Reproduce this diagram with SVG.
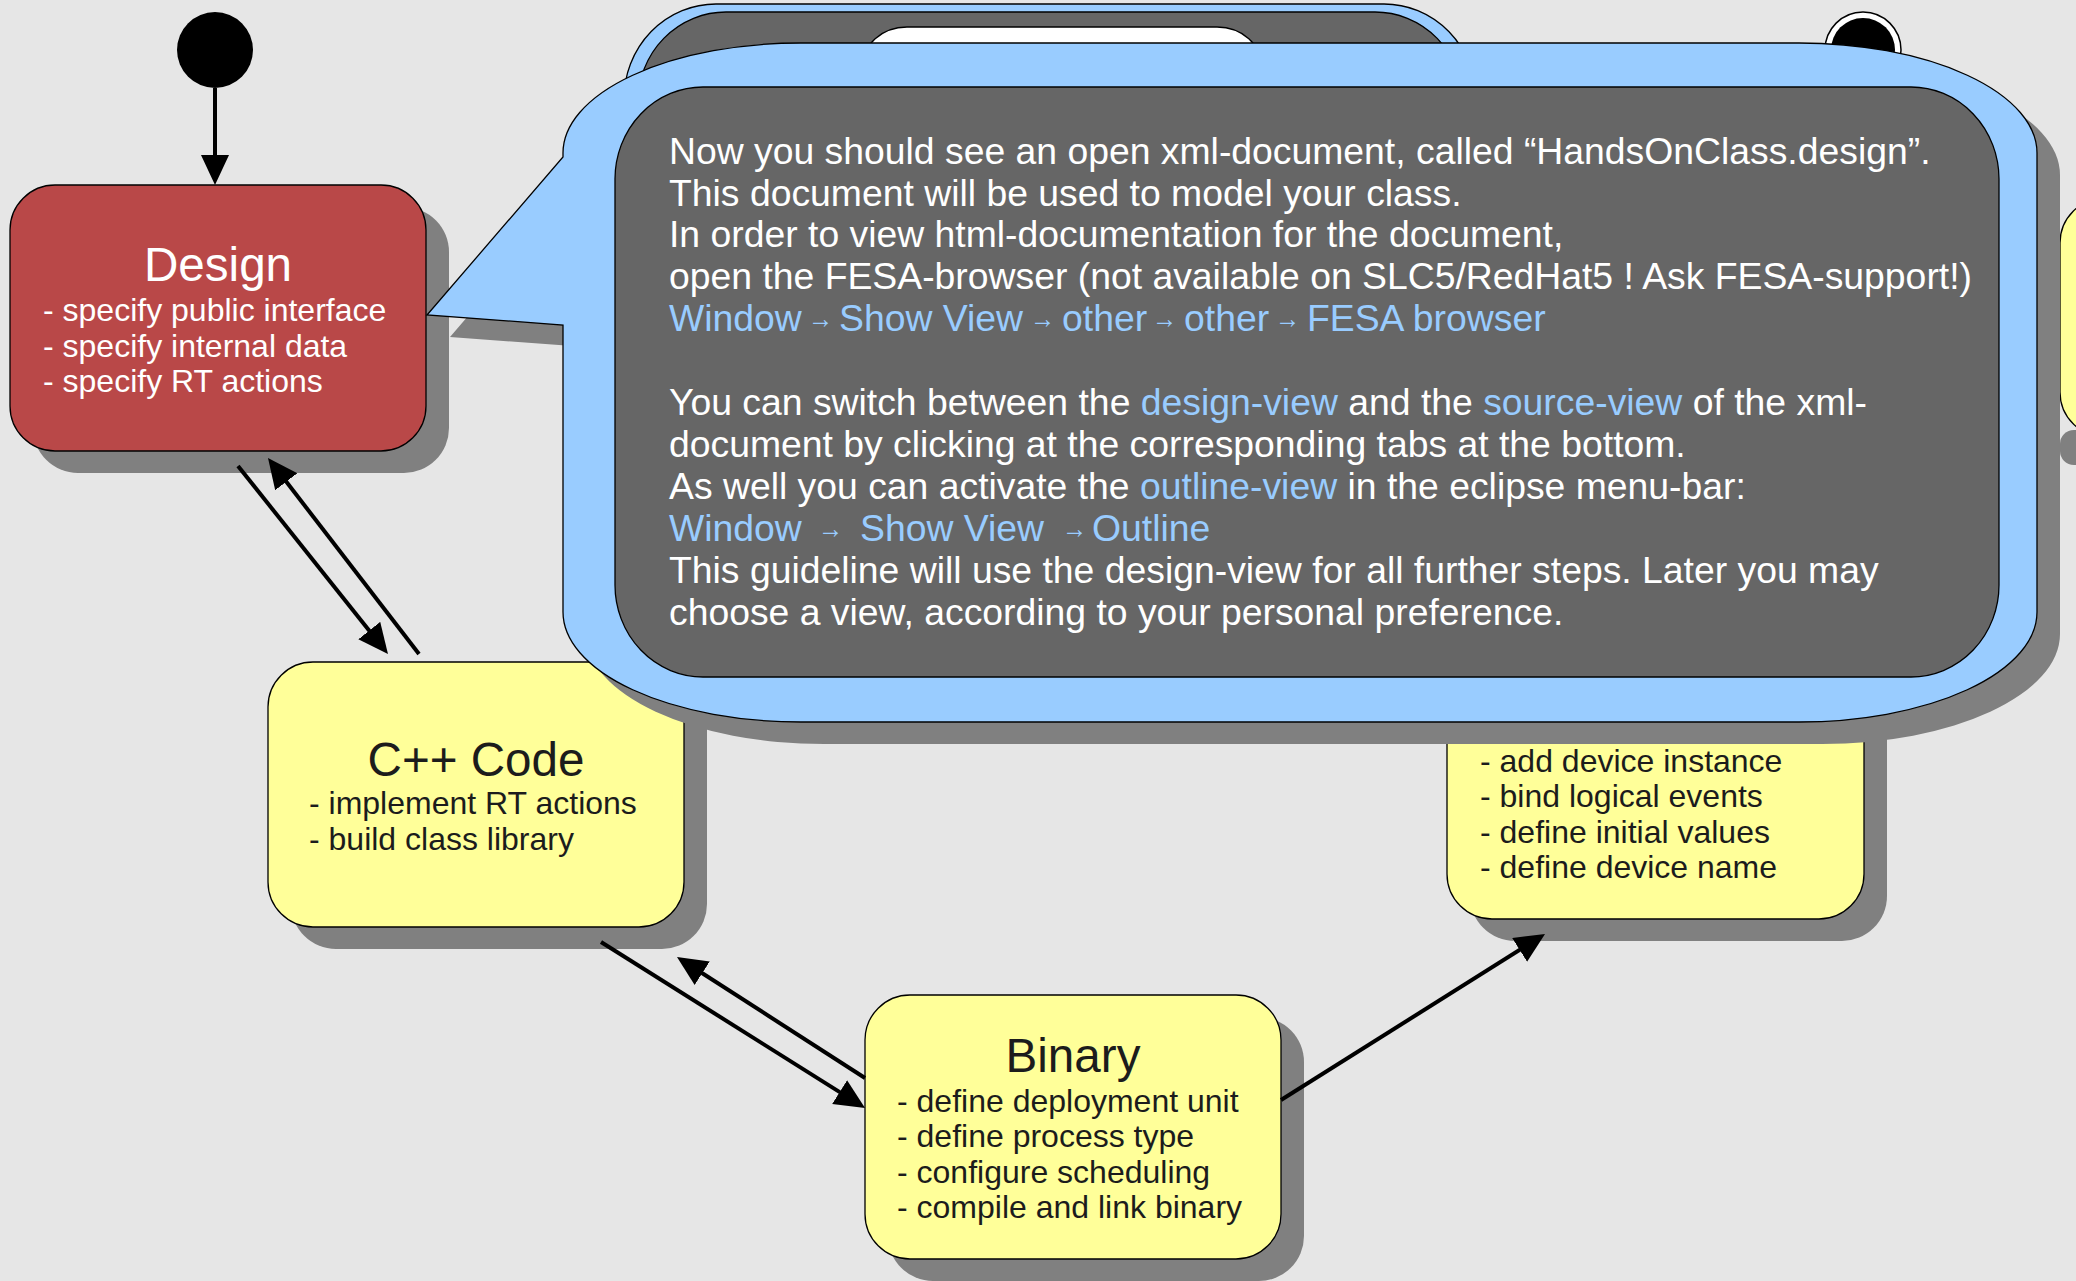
<svg xmlns="http://www.w3.org/2000/svg" width="2076" height="1281" viewBox="0 0 2076 1281">
  <style>
    text { font-family: "Liberation Sans", Arial, sans-serif; }
    .shadow { fill: #808080; }
    .state { stroke: #000; stroke-width: 1.3; }
    .yellow { fill: #ffff99; }
    .red { fill: #b94848; }
    .title { font-size: 47.6px; text-anchor: middle; }
    .body { font-size: 32px; }
    .dark-txt { fill: #1c1c1c; }
    .light-txt { fill: #ffffff; }
    .blue { fill: #99ccff; stroke: #000; stroke-width: 1.3; }
    .note { fill: #666666; stroke: #000; stroke-width: 1.3; }
    .note-txt { font-size: 37.33px; fill: #ffffff; }
    .lk { fill: #99ccff; }
    .arr { font-size: 29px; fill: #99ccff; }
    .conn { stroke: #000; stroke-width: 4; fill: none; marker-end: url(#ah); }
  </style>
  <defs>
    <marker id="ah" markerUnits="userSpaceOnUse" markerWidth="32" markerHeight="30" refX="10" refY="14" orient="auto">
      <path d="M0,0 L30,14 L0,28 Z" fill="#000"/>
    </marker>
    <path id="calloutShape" d="M801,43 H1799 A238,110 0 0 1 2037,153 V612 A238,110 0 0 1 1799,722 H801 A238,110 0 0 1 563,612 V325 L427,315 L563,157 V153 A238,110 0 0 1 801,43 Z"/>
  </defs>

  <rect x="0" y="0" width="2076" height="1281" fill="#e6e6e6"/>

  <!-- earlier note, mostly covered by the current one -->
  <g id="note-back">
    <rect class="blue" x="624" y="4" width="852" height="400" rx="92" ry="95"/>
    <rect class="note" x="638" y="12" width="825" height="380" rx="88" ry="90"/>
    <rect x="862" y="27" width="400" height="120" rx="45" ry="40" fill="#ffffff" stroke="#000" stroke-width="1.3"/>
  </g>

  <!-- final state -->
  <g id="final">
    <circle cx="1863" cy="50" r="38" fill="#ffffff" stroke="#000" stroke-width="1.5"/>
    <circle cx="1863" cy="50" r="32" fill="#000"/>
  </g>

  <!-- state at the right edge -->
  <g id="state-right">
    <rect class="shadow" x="2060" y="430" width="40" height="35" rx="14"/>
    <rect class="state yellow" x="2060" y="198" width="416" height="239" rx="45" ry="45"/>
  </g>

  <!-- initial state -->
  <g id="initial">
    <circle cx="215" cy="50" r="38" fill="#000"/>
  </g>

  <g id="design">
    <rect class="shadow" x="33" y="207" width="416" height="266" rx="45" ry="45"/>
    <rect class="state red" x="10" y="185" width="416" height="266" rx="45" ry="45"/>
    <text class="title light-txt" x="218" y="281">Design</text>
    <text class="body light-txt">
      <tspan x="43" y="321">- specify public interface</tspan>
      <tspan x="43" y="357">- specify internal data</tspan>
      <tspan x="43" y="392">- specify RT actions</tspan>
    </text>
  </g>

  <g id="cpp-code">
    <rect class="shadow" x="291" y="684" width="416" height="265" rx="45" ry="45"/>
    <rect class="state yellow" x="268" y="662" width="416" height="265" rx="45" ry="45"/>
    <text class="title dark-txt" x="476" y="776">C++ Code</text>
    <text class="body dark-txt">
      <tspan x="309" y="814">- implement RT actions</tspan>
      <tspan x="309" y="850">- build class library</tspan>
    </text>
  </g>

  <g id="binary">
    <rect class="shadow" x="888" y="1017" width="416" height="264" rx="45" ry="45"/>
    <rect class="state yellow" x="865" y="995" width="416" height="264" rx="45" ry="45"/>
    <text class="title dark-txt" x="1073" y="1072">Binary</text>
    <text class="body dark-txt">
      <tspan x="897" y="1112">- define deployment unit</tspan>
      <tspan x="897" y="1147">- define process type</tspan>
      <tspan x="897" y="1183">- configure scheduling</tspan>
      <tspan x="897" y="1218">- compile and link binary</tspan>
    </text>
  </g>

  <g id="instance">
    <rect class="shadow" x="1470" y="676" width="417" height="265" rx="45" ry="45"/>
    <rect class="state yellow" x="1447" y="654" width="417" height="265" rx="45" ry="45"/>
    <text class="body dark-txt">
      <tspan x="1480" y="772">- add device instance</tspan>
      <tspan x="1480" y="807">- bind logical events</tspan>
      <tspan x="1480" y="843">- define initial values</tspan>
      <tspan x="1480" y="878">- define device name</tspan>
    </text>
  </g>

  <g id="connectors">
    <line class="conn" x1="215" y1="88" x2="215" y2="165"/>
    <line class="conn" x1="238" y1="466" x2="375.5" y2="638.4"/>
    <line class="conn" x1="419" y1="654" x2="280.2" y2="473.8"/>
    <line class="conn" x1="601" y1="942" x2="848.1" y2="1097.4"/>
    <line class="conn" x1="865" y1="1078" x2="693.8" y2="967.8"/>
    <line class="conn" x1="1281" y1="1100" x2="1528.1" y2="944.6"/>
  </g>

  <!-- note attached to the Design state -->
  <g id="note-design">
    <use href="#calloutShape" class="shadow" transform="translate(23,22)"/>
    <use href="#calloutShape" class="blue"/>
    <rect class="note" x="615" y="87" width="1384" height="590" rx="88" ry="92"/>
    <text class="note-txt">
      <tspan x="669" y="164">Now you should see an open xml-document, called “HandsOnClass.design”.</tspan>
      <tspan x="669" y="206">This document will be used to model your class.</tspan>
      <tspan x="669" y="247">In order to view html-documentation for the document,</tspan>
      <tspan x="669" y="289">open the FESA-browser (not available on SLC5/RedHat5 ! Ask FESA-support!)</tspan>
      <tspan x="669" y="415">You can switch between the <tspan class="lk">design-view</tspan> and the <tspan class="lk">source-view</tspan> of the xml-</tspan>
      <tspan x="669" y="457">document by clicking at the corresponding tabs at the bottom.</tspan>
      <tspan x="669" y="499">As well you can activate the <tspan class="lk">outline-view</tspan> in the eclipse menu-bar:</tspan>
      <tspan x="669" y="583">This guideline will use the design-view for all further steps. Later you may</tspan>
      <tspan x="669" y="625">choose a view, according to your personal preference.</tspan>
    </text>
    <text class="note-txt lk">
      <tspan x="669" y="331">Window</tspan>
      <tspan x="839" y="331">Show View</tspan>
      <tspan x="1062" y="331">other</tspan>
      <tspan x="1184" y="331">other</tspan>
      <tspan x="1307" y="331">FESA browser</tspan>
      <tspan x="669" y="541">Window</tspan>
      <tspan x="860" y="541">Show View</tspan>
      <tspan x="1092" y="541">Outline</tspan>
    </text>
    <g class="arr">
      <text x="808" y="328" textLength="25" lengthAdjust="spacingAndGlyphs">→</text>
      <text x="1030" y="328" textLength="25" lengthAdjust="spacingAndGlyphs">→</text>
      <text x="1152" y="328" textLength="25" lengthAdjust="spacingAndGlyphs">→</text>
      <text x="1275" y="328" textLength="25" lengthAdjust="spacingAndGlyphs">→</text>
      <text x="818" y="538" textLength="25" lengthAdjust="spacingAndGlyphs">→</text>
      <text x="1062" y="538" textLength="25" lengthAdjust="spacingAndGlyphs">→</text>
    </g>
  </g>
</svg>
